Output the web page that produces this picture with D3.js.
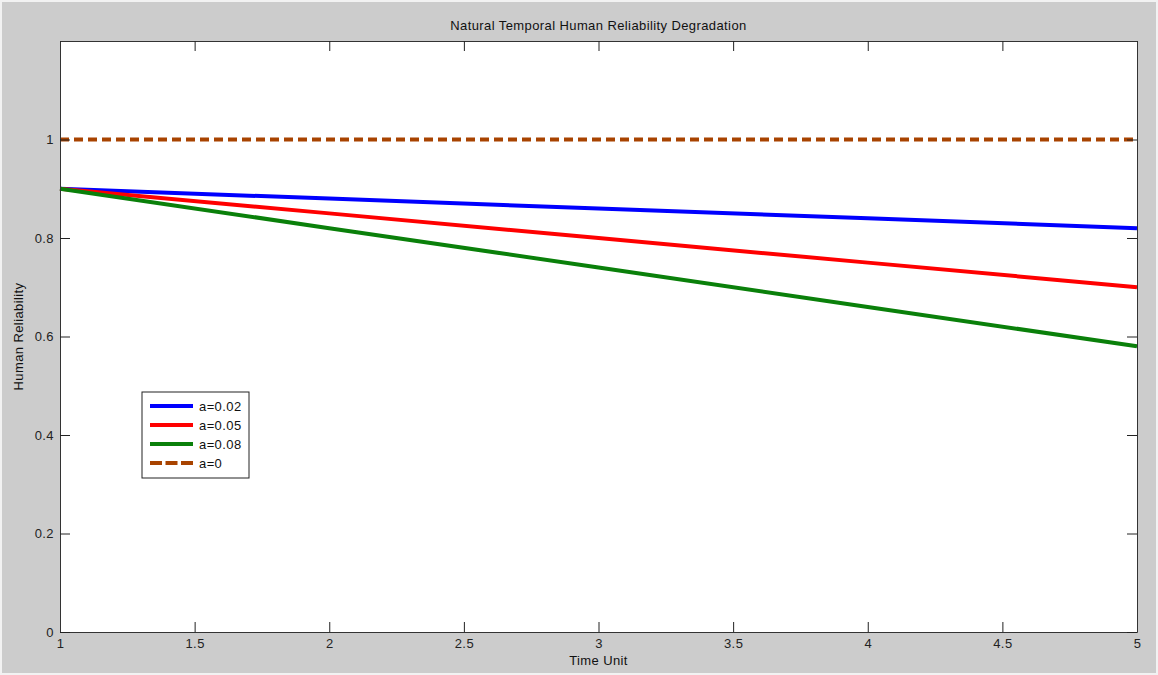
<!DOCTYPE html>
<html>
<head>
<meta charset="utf-8">
<script src="https://cdn.jsdelivr.net/npm/d3@7"></script>
<style>
  body { margin: 0; background: #cccccc; }
  svg { display: block; font-family: "Liberation Sans", Arial, sans-serif; }
  text { letter-spacing: 0.4px; }
</style>
</head>
<body>
<div id="chart"></div>
<script>
const timeUnits = [1, 2, 3, 4, 5]
const relA002 = [0.90, 0.88, 0.86, 0.84, 0.82]
const relA005 = [0.90, 0.85, 0.80, 0.75, 0.70]
const relA008 = [0.90, 0.82, 0.74, 0.66, 0.58]
const relA0 = [1, 1, 1, 1, 1]
const xTicks = [1, 1.5, 2, 2.5, 3, 3.5, 4, 4.5, 5]
const yTicks = [0, 0.2, 0.4, 0.6, 0.8, 1]

const series = [
  { label: 'a=0.02', values: relA002, color: '#0000ff', dash: null },
  { label: 'a=0.05', values: relA005, color: '#ff0000', dash: null },
  { label: 'a=0.08', values: relA008, color: '#0a800a', dash: null },
  { label: 'a=0', values: relA0, color: '#a84300', dash: '9,5' }
]

const width = 1158
const height = 675
const margin = { top: 41, right: 21, bottom: 43, left: 60 }

const svg = d3.select('#chart')
  .append('svg')
  .attr('width', width)
  .attr('height', height)

svg.append('rect')
  .attr('x', 1).attr('y', 1)
  .attr('width', width - 2).attr('height', height - 2)
  .attr('fill', '#cccccc')
  .attr('stroke', '#f2f2f2')
  .attr('stroke-width', 2)

const x = d3.scaleLinear()
  .domain([1, 5])
  .range([margin.left, width - margin.right])

const y = d3.scaleLinear()
  .domain([0, 1.2])
  .range([height - margin.bottom, margin.top])

svg.append('rect')
  .attr('x', margin.left)
  .attr('y', margin.top)
  .attr('width', width - margin.left - margin.right)
  .attr('height', height - margin.top - margin.bottom)
  .attr('fill', '#ffffff')

// lines
const line = d3.line()
  .x((d, i) => x(timeUnits[i]))
  .y(d => y(d))

const plot = svg.append('g')
series.forEach(s => {
  plot.append('path')
    .datum(s.values)
    .attr('d', line)
    .attr('fill', 'none')
    .attr('stroke', s.color)
    .attr('stroke-width', 4)
    .attr('stroke-dasharray', s.dash)
})

// axes (MATLAB style: inward ticks, boxed)
const tickStyle = g => {
  g.select('.domain').attr('stroke', '#333')
  g.selectAll('.tick line').attr('stroke', '#222')
  g.selectAll('.tick text').attr('fill', '#222').style('font-size', '13px')
}

svg.append('g')
  .attr('transform', `translate(0,${height - margin.bottom})`)
  .call(d3.axisBottom(x).tickValues(xTicks).tickSizeInner(-10).tickSizeOuter(0).tickFormat(d3.format('')))
  .call(tickStyle)
  .call(g => g.selectAll('.tick text').attr('y', 7).attr('dy', '0.71em'))

svg.append('g')
  .attr('transform', `translate(0,${margin.top})`)
  .call(d3.axisTop(x).tickValues(xTicks).tickSizeInner(-10).tickSizeOuter(0).tickFormat(''))
  .call(tickStyle)

svg.append('g')
  .attr('transform', `translate(${margin.left},0)`)
  .call(d3.axisLeft(y).tickValues(yTicks).tickSizeInner(-10).tickSizeOuter(0).tickFormat(d3.format('')))
  .call(tickStyle)
  .call(g => g.selectAll('.tick text').attr('x', -6))

svg.append('g')
  .attr('transform', `translate(${width - margin.right},0)`)
  .call(d3.axisRight(y).tickValues(yTicks).tickSizeInner(-10).tickSizeOuter(0).tickFormat(''))
  .call(tickStyle)

// titles
svg.append('text')
  .attr('x', (margin.left + width - margin.right) / 2)
  .attr('y', 30)
  .attr('text-anchor', 'middle')
  .style('font-size', '13px')
  .attr('fill', '#111')
  .text('Natural Temporal Human Reliability Degradation')

svg.append('text')
  .attr('x', (margin.left + width - margin.right) / 2)
  .attr('y', 665)
  .attr('text-anchor', 'middle')
  .style('font-size', '13px')
  .attr('fill', '#111')
  .text('Time Unit')

svg.append('text')
  .attr('transform', `translate(23,${y(0.6)}) rotate(-90)`)
  .attr('text-anchor', 'middle')
  .style('font-size', '13px')
  .attr('fill', '#111')
  .text('Human Reliability')

// legend
const legend = svg.append('g').attr('transform', 'translate(142,392)')
legend.append('rect')
  .attr('width', 107)
  .attr('height', 86)
  .attr('fill', '#ffffff')
  .attr('stroke', '#222')
  .attr('stroke-width', 1)

series.forEach((s, i) => {
  const row = legend.append('g').attr('transform', `translate(0,${14 + i * 19})`)
  row.append('line')
    .attr('x1', 8).attr('x2', 51)
    .attr('stroke', s.color)
    .attr('stroke-width', 4)
    .attr('stroke-dasharray', s.dash ? '12,3.5' : null)
  row.append('text')
    .attr('x', 57)
    .attr('dy', '0.35em')
    .style('font-size', '13px')
    .attr('fill', '#111')
    .text(s.label)
})
</script>
</body>
</html>
